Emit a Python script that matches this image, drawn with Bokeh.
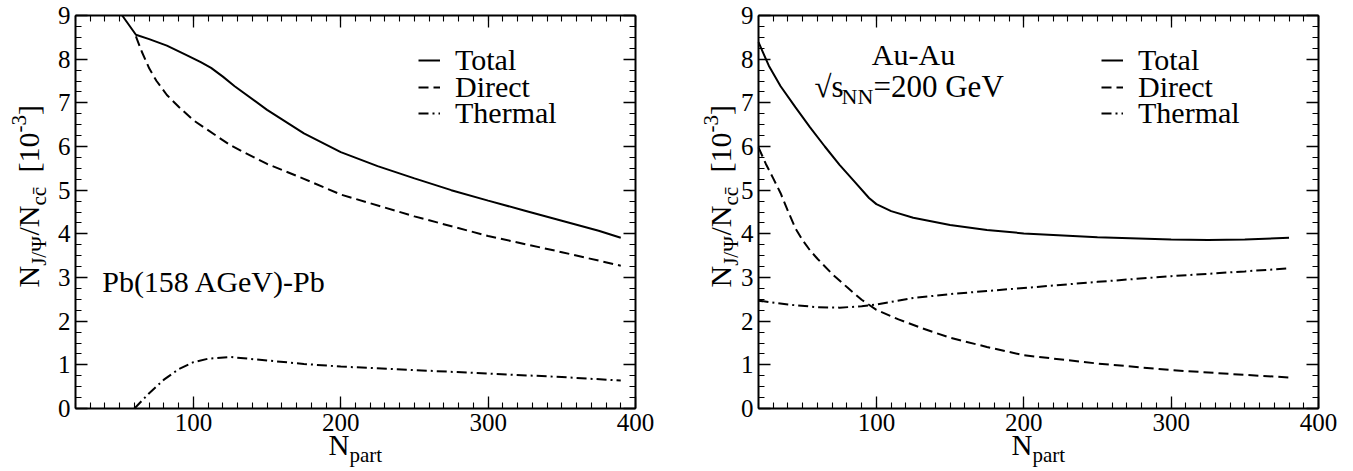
import math
from bokeh.plotting import figure
from bokeh.models import (Range1d, FixedTicker, LinearAxis, Label, Legend, LegendItem,
                          CustomJSTickFormatter)
from bokeh.layouts import row
from bokeh.embed import file_html
from bokeh.resources import INLINE

FONT = "Liberation Serif"

# ---------------- data ----------------
x_major = [100, 200, 300, 400]
x_minor = list(range(20, 401, 10))
y_major = [0, 1, 2, 3, 4, 5, 6, 7, 8, 9]
y_minor = [i * 0.25 for i in range(0, 37)]

# Left panel: Pb(158 AGeV)-Pb
pb_total_n = [51.7, 61, 70, 82, 95, 105, 112, 120, 128, 150, 175, 200, 225, 250, 275, 300, 325, 350, 375, 390]
pb_total = [9.0, 8.56, 8.46, 8.31, 8.10, 7.93, 7.80, 7.60, 7.38, 6.84, 6.30, 5.87, 5.55, 5.27, 5.00, 4.76, 4.53, 4.30, 4.07, 3.91]
pb_direct_n = [61, 65, 70, 75, 82, 90, 100, 125, 150, 175, 200, 250, 300, 350, 390]
pb_direct = [8.52, 8.17, 7.79, 7.50, 7.18, 6.91, 6.60, 6.03, 5.60, 5.26, 4.90, 4.40, 3.95, 3.58, 3.27]
pb_thermal_n = [60, 70, 80, 90, 100, 110, 125, 150, 175, 200, 250, 300, 350, 390]
pb_thermal = [0.0, 0.35, 0.66, 0.90, 1.06, 1.14, 1.18, 1.10, 1.02, 0.96, 0.88, 0.80, 0.72, 0.64]

# Right panel: Au-Au, sqrt(s_NN) = 200 GeV
au_total_n = [20, 27, 35, 45, 55, 65, 75, 85, 95, 100, 110, 125, 150, 175, 200, 250, 300, 325, 350, 380]
au_total = [8.39, 7.85, 7.38, 6.90, 6.44, 6.00, 5.58, 5.20, 4.82, 4.68, 4.52, 4.37, 4.20, 4.09, 4.01, 3.92, 3.87, 3.86, 3.87, 3.91]
au_direct_n = [20, 25, 30, 35, 40, 45, 50, 55, 60, 70, 80, 90, 100, 115, 130, 150, 175, 200, 250, 300, 350, 380]
au_direct = [5.98, 5.60, 5.27, 4.93, 4.52, 4.13, 3.85, 3.62, 3.43, 3.08, 2.78, 2.49, 2.26, 2.04, 1.85, 1.62, 1.41, 1.22, 1.03, 0.88, 0.77, 0.71]
au_thermal_n = [20, 40, 60, 75, 90, 100, 125, 150, 175, 200, 250, 300, 350, 380]
au_thermal = [2.47, 2.38, 2.32, 2.31, 2.34, 2.38, 2.53, 2.62, 2.69, 2.76, 2.90, 3.03, 3.14, 3.21]

legend_labels = ["Total", "Direct", "Thermal"]

# ---------------- layout constants (pixels) ----------------
H = 471
X_LO, X_HI, Y_LO, Y_HI = 20, 400, 0, 9
PX_X = 560.0 / (X_HI - X_LO)
PX_Y = 393.0 / (Y_HI - Y_LO)
FRAME_BOTTOM = 408
BASE_SHIFT = 0.4  # em; compensates the label anchor so that py is the text baseline


def style_axis(ax, ticks, minors, show_labels, loc, bounds):
    ax.fixed_location = loc
    ax.bounds = bounds
    ax.ticker = FixedTicker(ticks=ticks, minor_ticks=minors)
    ax.axis_line_color = "black"
    ax.axis_line_width = 2
    ax.major_tick_line_color = "black"
    ax.minor_tick_line_color = "black"
    ax.major_tick_line_width = 1.3
    ax.minor_tick_line_width = 1.1
    ax.major_tick_in = 12
    ax.major_tick_out = 0
    ax.minor_tick_in = 6
    ax.minor_tick_out = 0
    ax.major_label_text_font = FONT
    ax.major_label_text_font_size = "25px"
    ax.major_label_text_color = "black"
    ax.major_label_standoff = 5
    if not show_labels:
        ax.formatter = CustomJSTickFormatter(code="return ''")
        ax.major_label_standoff = 0


def make_panel(fig_left, fig_width, frame_left, series, ytitle_base):
    x0 = X_LO - (frame_left - fig_left) / PX_X
    x1 = x0 + fig_width / PX_X
    y0 = Y_LO - (H - FRAME_BOTTOM) / PX_Y
    y1 = y0 + H / PX_Y
    p = figure(width=fig_width, height=H, x_range=Range1d(x0, x1), y_range=Range1d(y0, y1),
               output_backend="svg", toolbar_location=None, min_border=0)
    p.background_fill_color = "white"
    p.border_fill_color = "white"
    p.outline_line_color = None
    p.xgrid.visible = False
    p.ygrid.visible = False
    style_axis(p.xaxis[0], x_major, x_minor, True, Y_LO, (X_LO, X_HI))
    style_axis(p.yaxis[0], y_major, y_minor, True, X_LO, (Y_LO, Y_HI))
    top = LinearAxis()
    style_axis(top, x_major, x_minor, False, Y_HI, (X_LO, X_HI))
    p.add_layout(top, "above")
    right = LinearAxis()
    style_axis(right, y_major, y_minor, False, X_HI, (Y_LO, Y_HI))
    p.add_layout(right, "right")

    def lab(px, py, text, size, angle=0.0, align="left"):
        if angle == 0.0:
            py = py - BASE_SHIFT * size
        else:
            px = px - BASE_SHIFT * size
        p.add_layout(Label(x=px - fig_left, y=H - py, x_units="screen", y_units="screen",
                           text=text, text_font=FONT, text_font_size=f"{size}px",
                           text_color="black", angle=angle, text_align=align,
                           text_baseline="alphabetic"))

    dashes = ["solid", "10 5", "10 4 2 4"]
    rends = []
    for (xs, ys), dash in zip(series, dashes):
        rends.append(p.line(xs, ys, line_color="black", line_width=2, line_dash=dash))

    glyph_x = frame_left + 343
    for lbl, r, cy in zip(legend_labels, rends, [60, 87, 113]):
        lg = Legend(items=[LegendItem(label=lbl, renderers=[r])],
                    location=(glyph_x - fig_left, H - (cy + 17)),
                    label_text_font=FONT, label_text_font_size="30px", label_text_color="black",
                    glyph_width=22, glyph_height=20, label_standoff=15, spacing=0,
                    padding=0, margin=0, border_line_color=None, background_fill_alpha=0)
        p.add_layout(lg)

    # x axis title N_part
    lab(frame_left + 253, 456, "N", 29)
    lab(frame_left + 274, 463, "part", 21)

    # y axis title N_{J/Psi}/N_{c cbar}   [10^-3], rotated, reading upwards
    a = math.pi / 2
    b = ytitle_base
    lab(b, 287, "N", 30, a)
    lab(b + 7, 265.3, "J/Ψ", 21, a)
    lab(b, 235, "/N", 30, a)
    lab(b + 7, 205, "cc̄", 21, a)
    lab(b, 172, "[10", 30, a)
    lab(b - 13, 132, "-3", 21, a)
    lab(b, 114.5, "]", 30, a)
    return p, lab


p1, lab1 = make_panel(0, 675, 75,
                      [(pb_total_n, pb_total), (pb_direct_n, pb_direct), (pb_thermal_n, pb_thermal)], 40)
lab1(101.7, 293, "Pb(158 AGeV)-Pb", 30)

p2, lab2 = make_panel(675, 678, 758,
                      [(au_total_n, au_total), (au_direct_n, au_direct), (au_thermal_n, au_thermal)], 731.7)
lab2(913, 66, "Au-Au", 30, align="center")
lab2(814, 98, "√s", 31)
lab2(841, 105, "NN", 22)
lab2(873, 98, "=200 GeV", 31)

layout = row(p1, p2)
open("out.html", "w").write(file_html(layout, INLINE))
